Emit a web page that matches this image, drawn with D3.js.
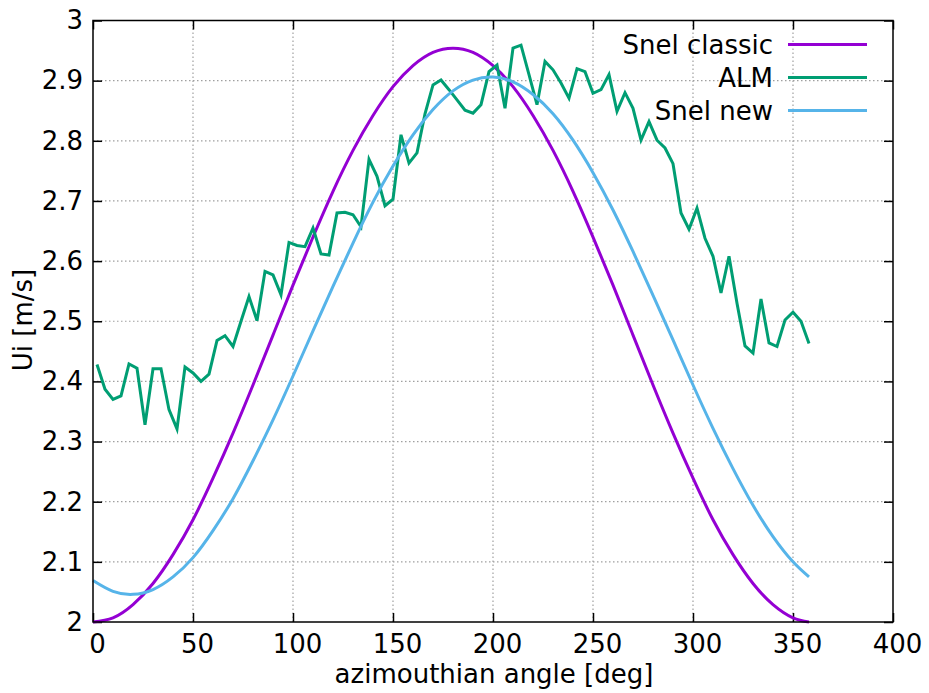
<!DOCTYPE html>
<html>
<head>
<meta charset="utf-8">
<script src="https://cdn.jsdelivr.net/npm/d3@7"></script>
<style>
  body { margin: 0; background: #fff; }
  svg text { font-family: "DejaVu Sans", sans-serif; fill: #000; }
</style>
</head>
<body>
<div id="chart"></div>
<script>
// tick labels
let xTicks = [0, 50, 100, 150, 200, 250, 300, 350, 400];
let yTicks = [2, 2.1, 2.2, 2.3, 2.4, 2.5, 2.6, 2.7, 2.8, 2.9, 3];

// smooth curves, every 10 deg
let snelAngle = [0, 10, 20, 30, 40, 50, 60, 70, 80, 90, 100, 110, 120, 130, 140, 150, 160, 170, 180,
    190, 200, 210, 220, 230, 240, 250, 260, 270, 280, 290, 300, 310, 320, 330, 340, 350, 358];
let snelClassic = [2.000, 2.007, 2.029, 2.064, 2.112, 2.170, 2.239, 2.314, 2.394, 2.477, 2.560, 2.640,
    2.716, 2.784, 2.842, 2.890, 2.925, 2.947, 2.954, 2.947, 2.925, 2.890, 2.842, 2.784, 2.716, 2.640,
    2.560, 2.477, 2.394, 2.314, 2.239, 2.170, 2.112, 2.064, 2.029, 2.007, 2.000];
let snelNew = [2.069, 2.051, 2.046, 2.054, 2.075, 2.107, 2.152, 2.205, 2.268, 2.336, 2.409, 2.484,
    2.558, 2.630, 2.698, 2.758, 2.810, 2.852, 2.883, 2.901, 2.906, 2.898, 2.877, 2.845, 2.801, 2.747,
    2.685, 2.616, 2.543, 2.469, 2.394, 2.322, 2.255, 2.194, 2.142, 2.100, 2.075];

// ALM, one point every 4 deg
let almAngle = [2, 6, 10, 14, 18, 22, 26, 30, 34, 38, 42, 46, 50, 54, 58, 62, 66, 70, 74, 78,
    82, 86, 90, 94, 98, 102, 106, 110, 114, 118, 122, 126, 130, 134, 138, 142, 146, 150, 154, 158,
    162, 166, 170, 174, 178, 182, 186, 190, 194, 198, 202, 206, 210, 214, 218, 222, 226, 230, 234, 238,
    242, 246, 250, 254, 258, 262, 266, 270, 274, 278, 282, 286, 290, 294, 298, 302, 306, 310, 314, 318,
    322, 326, 330, 334, 338, 342, 346, 350, 354, 358];
let almUi = [2.428, 2.387, 2.370, 2.376, 2.429, 2.422, 2.328, 2.421, 2.421, 2.353, 2.321, 2.424, 2.414,
    2.400, 2.412, 2.468, 2.476, 2.458, 2.500, 2.541, 2.501, 2.583, 2.577, 2.544, 2.631, 2.626, 2.624,
    2.655, 2.612, 2.610, 2.680, 2.681, 2.677, 2.657, 2.769, 2.741, 2.692, 2.703, 2.810, 2.763, 2.780,
    2.845, 2.893, 2.901, 2.885, 2.868, 2.851, 2.846, 2.860, 2.915, 2.926, 2.854, 2.954, 2.959, 2.910,
    2.860, 2.932, 2.918, 2.896, 2.871, 2.920, 2.915, 2.879, 2.885, 2.910, 2.849, 2.880, 2.854, 2.801,
    2.832, 2.801, 2.788, 2.762, 2.680, 2.653, 2.688, 2.638, 2.608, 2.547, 2.608, 2.530, 2.459, 2.447,
    2.537, 2.464, 2.458, 2.502, 2.515, 2.500, 2.463];

let seriesNames = ["Snel classic", "ALM", "Snel new"];
let seriesColors = ["#9400d3", "#009e73", "#56b4e9"];

let width = 929, height = 693;
let margin = { top: 20.5, right: 36, bottom: 71, left: 93 };
let innerW = width - margin.left - margin.right,
    innerH = height - margin.top - margin.bottom;

let svg = d3.select("#chart").append("svg")
    .attr("width", width)
    .attr("height", height);

let g = svg.append("g")
    .attr("transform", "translate(" + margin.left + "," + margin.top + ")");

let x = d3.scaleLinear().domain([0, 400]).range([0, innerW]);
let y = d3.scaleLinear().domain([2, 3]).range([innerH, 0]);

// dotted grid
g.selectAll(".gx")
    .data(xTicks.slice(1, -1))
    .enter().append("line")
    .attr("x1", d => x(d)).attr("x2", d => x(d))
    .attr("y1", 0).attr("y2", innerH)
    .attr("stroke", "#a0a0a0").attr("stroke-width", 1.2)
    .attr("stroke-dasharray", "1.5,2.5");
g.selectAll(".gy")
    .data(yTicks.slice(1, -1))
    .enter().append("line")
    .attr("y1", d => y(d)).attr("y2", d => y(d))
    .attr("x1", 0).attr("x2", innerW)
    .attr("stroke", "#a0a0a0").attr("stroke-width", 1.2)
    .attr("stroke-dasharray", "1.5,2.5");

// axes, gnuplot style: ticks inward and mirrored
let fmtY = d => (d === 2 || d === 3) ? d3.format("d")(d) : d3.format(".1f")(d);

let xAxis = g.append("g")
    .attr("transform", "translate(0," + innerH + ")")
    .call(d3.axisBottom(x).tickValues(xTicks).tickSize(-9).tickPadding(13).tickFormat(d3.format("d")));
xAxis.selectAll("text").attr("dx", 4);
g.append("g")
    .call(d3.axisTop(x).tickValues(xTicks).tickSize(-9).tickFormat(""));
g.append("g")
    .call(d3.axisLeft(y).tickValues(yTicks).tickSize(-9).tickPadding(10).tickFormat(fmtY));
g.append("g")
    .attr("transform", "translate(" + innerW + ",0)")
    .call(d3.axisRight(y).tickValues(yTicks).tickSize(-9).tickFormat(""));

g.selectAll(".domain").remove();
g.selectAll(".tick line").attr("stroke", "#000").attr("stroke-width", 1.5);
g.selectAll(".tick text").style("font-size", "26px").attr("fill", "#000");

// lines
let smooth = d3.line()
    .x((d, i) => x(snelAngle[i]))
    .y(d => y(d))
    .curve(d3.curveNatural);

let jagged = d3.line()
    .x((d, i) => x(almAngle[i]))
    .y(d => y(d));

g.append("path")
    .attr("d", smooth(snelClassic))
    .attr("fill", "none")
    .attr("stroke", seriesColors[0])
    .attr("stroke-width", 3);

g.append("path")
    .attr("d", jagged(almUi))
    .attr("fill", "none")
    .attr("stroke", seriesColors[1])
    .attr("stroke-width", 3)
    .attr("stroke-linejoin", "miter");

g.append("path")
    .attr("d", smooth(snelNew))
    .attr("fill", "none")
    .attr("stroke", seriesColors[2])
    .attr("stroke-width", 3);

// border
g.append("rect")
    .attr("x", 0).attr("y", 0)
    .attr("width", innerW).attr("height", innerH)
    .attr("fill", "none")
    .attr("stroke", "#000")
    .attr("stroke-width", 1.5);

// legend
let legend = svg.append("g");
seriesNames.forEach(function (name, i) {
    let ly = 44.5 + i * 33;
    legend.append("text")
        .attr("x", 773)
        .attr("y", ly)
        .attr("dy", "0.36em")
        .attr("text-anchor", "end")
        .style("font-size", "26px")
        .text(name);
    legend.append("line")
        .attr("x1", 788).attr("x2", 867)
        .attr("y1", ly).attr("y2", ly)
        .attr("stroke", seriesColors[i])
        .attr("stroke-width", 3);
});

// axis titles
svg.append("text")
    .attr("x", margin.left + x(200) + 1)
    .attr("y", 683)
    .attr("text-anchor", "middle")
    .style("font-size", "26px")
    .text("azimouthian angle [deg]");

svg.append("text")
    .attr("transform", "translate(32,320) rotate(-90)")
    .attr("text-anchor", "middle")
    .style("font-size", "26px")
    .text("Ui [m/s]");
</script>
</body>
</html>
